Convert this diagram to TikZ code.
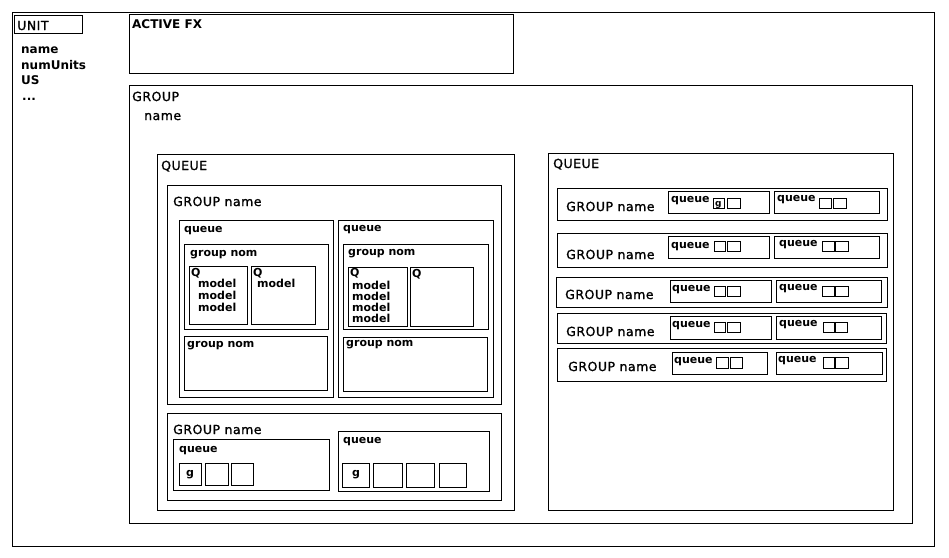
\documentclass[tikz,border=0pt]{standalone}
\usepackage{fontspec}
\setmainfont{DejaVu Sans}
\newfontfamily\bigf[LetterSpace=4,FakeBold=1.2]{DejaVu Sans}
\tikzset{
  box/.style={draw=black,line width=1pt},
  big/.style={anchor=base west,inner sep=0pt,font=\bigf\fontsize{12.5}{14}\selectfont},
  bigb/.style={anchor=base west,inner sep=0pt,font=\bfseries\fontsize{12}{14}\selectfont},
  small/.style={anchor=base west,inner sep=0pt,font=\bfseries\fontsize{11}{12}\selectfont},
  tiny/.style={anchor=base west,inner sep=0pt,font=\bfseries\fontsize{11}{12}\selectfont},
}
\begin{document}
\begin{tikzpicture}[x=1pt,y=-1pt]
\useasboundingbox (0,0) rectangle (949,557);
% outer
\draw[box] (12,12) rectangle (934,546);
% UNIT
\draw[box] (14,15) rectangle (82,33);
\node[big] (unit) at (17,30) {UNIT};
\node[bigb] (uname) at (21,53) {name};
\node[bigb] (unum) at (21,69) {numUnits};
\node[bigb] (uus) at (21,84) {US};
\node[bigb] (udots) at (22,100) {...};
% ACTIVE FX
\draw[box] (129,14) rectangle (513,73);
\node[bigb] (afx) at (132,28) {ACTIVE FX};
% GROUP
\draw[box] (129,85) rectangle (912,523);
\node[big] (grp) at (132,101) {GROUP};
\node[big] (grpname) at (144,120) {name};
% left QUEUE
\draw[box] (157,154) rectangle (514,510);
\node[big] (lq) at (161,170) {QUEUE};
% GROUP name 1
\draw[box] (167,185) rectangle (501,404);
\node[big] (gn1) at (173,206) {GROUP name};
% queue 1
\draw[box] (179,220) rectangle (333,397);
\node[small] (q1) at (184,232) {queue};
\draw[box] (184,244) rectangle (328,329);
\node[small] (g11) at (190,256) {group nom};
\draw[box] (189,266) rectangle (247,324);
\node[small] (Q11) at (191,276) {Q};
\node[small] (m111) at (198,287) {model};
\node[small] (m112) at (198,299) {model};
\node[small] (m113) at (198,311) {model};
\draw[box] (251,266) rectangle (315,324);
\node[small] (Q12) at (253,276) {Q};
\node[small] (m121) at (257,287) {model};
\draw[box] (184,336) rectangle (327,390);
\node[small] (g12) at (187,347) {group nom};
% queue 2
\draw[box] (338,220) rectangle (493,397);
\node[small] (q2) at (343,231) {queue};
\draw[box] (343,244) rectangle (488,329);
\node[small] (g21) at (348,255) {group nom};
\draw[box] (348,267) rectangle (407,326);
\node[small] (Q21) at (350,276) {Q};
\node[small] (m211) at (352,289) {model};
\node[small] (m212) at (352,300) {model};
\node[small] (m213) at (352,311) {model};
\node[small] (m214) at (352,322) {model};
\draw[box] (410,267) rectangle (473,326);
\node[small] (Q22) at (412,277) {Q};
\draw[box] (343,337) rectangle (487,391);
\node[small] (g22) at (346,346) {group nom};
% GROUP name 2
\draw[box] (167,413) rectangle (501,500);
\node[big] (gn2) at (173,434) {GROUP name};
\draw[box] (173,439) rectangle (329,490);
\node[small] (q3) at (179,452) {queue};
\draw[box] (179,463) rectangle (201,485);
\node[small] (g3) at (186,476) {g};
\draw[box] (205,463) rectangle (228,485);
\draw[box] (231,463) rectangle (253,485);
\draw[box] (338,431) rectangle (489,491);
\node[small] (q4) at (343,443) {queue};
\draw[box] (342,463) rectangle (369,487);
\node[small] (g4) at (352,476) {g};
\draw[box] (373,463) rectangle (402,487);
\draw[box] (406,463) rectangle (434,487);
\draw[box] (439,463) rectangle (466,487);
% right QUEUE
\draw[box] (548,153) rectangle (893,510);
\node[big] (rq) at (553,168) {QUEUE};
% row 1
\draw[box] (557,188) rectangle (887,220);
\node[big] (r1) at (566,211) {GROUP name};
\draw[box] (668,191) rectangle (769,213);
\node[tiny] (r1a) at (671,202) {queue};
\draw[box] (713,198) rectangle (724,208);
\node[tiny,font=\bfseries\fontsize{9}{10}\selectfont] (r1g) at (715,206.5) {g};
\draw[box] (727,198) rectangle (740,208);
\draw[box] (774,191) rectangle (879,213);
\node[tiny] (r1b) at (777,201) {queue};
\draw[box] (819,198) rectangle (831,208);
\draw[box] (833,198) rectangle (846,208);
% row 2
\draw[box] (557,233) rectangle (887,267);
\node[big] (r2) at (566,259) {GROUP name};
\draw[box] (668,236) rectangle (769,258);
\node[tiny] (r2a) at (671,248) {queue};
\draw[box] (714,241) rectangle (725,251);
\draw[box] (727,241) rectangle (740,251);
\draw[box] (774,236) rectangle (879,258);
\node[tiny] (r2b) at (779,246) {queue};
\draw[box] (822,241) rectangle (834,251);
\draw[box] (835,241) rectangle (848,251);
% row 3
\draw[box] (556,277) rectangle (887,307);
\node[big] (r3) at (565,299) {GROUP name};
\draw[box] (670,280) rectangle (771,302);
\node[tiny] (r3a) at (672,291) {queue};
\draw[box] (714,286) rectangle (725,296);
\draw[box] (727,286) rectangle (740,296);
\draw[box] (776,280) rectangle (881,302);
\node[tiny] (r3b) at (779,290) {queue};
\draw[box] (822,286) rectangle (834,296);
\draw[box] (835,286) rectangle (848,296);
% row 4
\draw[box] (557,313) rectangle (886,343);
\node[big] (r4) at (566,336) {GROUP name};
\draw[box] (670,316) rectangle (771,339);
\node[tiny] (r4a) at (672,327) {queue};
\draw[box] (714,322) rectangle (725,332);
\draw[box] (727,322) rectangle (740,332);
\draw[box] (776,316) rectangle (881,339);
\node[tiny] (r4b) at (779,326) {queue};
\draw[box] (823,322) rectangle (834,332);
\draw[box] (835,322) rectangle (847,332);
% row 5
\draw[box] (557,348) rectangle (886,381);
\node[big] (r5) at (568,371) {GROUP name};
\draw[box] (672,352) rectangle (767,374);
\node[tiny] (r5a) at (674,363) {queue};
\draw[box] (716,357) rectangle (728,368);
\draw[box] (730,357) rectangle (742,368);
\draw[box] (776,352) rectangle (882,374);
\node[tiny] (r5b) at (778,362) {queue};
\draw[box] (823,357) rectangle (834,368);
\draw[box] (835,357) rectangle (848,368);
\end{tikzpicture}
\end{document}
